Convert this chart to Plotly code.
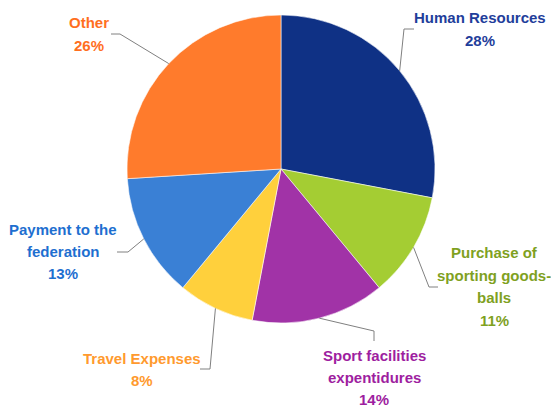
import math
import plotly.graph_objects as go

W, H = 551, 412

# data
labels = ["Human Resources", "Purchase of sporting goods-balls",
          "Sport facilities expentidures", "Travel Expenses",
          "Payment to the federation", "Other"]
label_lines = [["Human Resources"],
               ["Purchase of", "sporting goods-", "balls"],
               ["Sport facilities", "expentidures"],
               ["Travel Expenses"],
               ["Payment to the", "federation"],
               ["Other"]]
values = [28, 11, 14, 8, 13, 26]

slice_colors = ["#0F3185", "#A4CD33", "#A133A7", "#FFD03C", "#3A80D5", "#FF7B2C"]
text_colors = ["#1F3E9B", "#7FA11F", "#9E1EA0", "#FF9A2E", "#1E6FD0", "#FF6F1E"]

# pie geometry in pixels
cx, cy, r = 281, 169, 154

# label block: centre x and first line y, in pixels
label_pos = [(480, 18), (494, 253), (374, 355), (142, 358), (63, 229), (89, 23)]
line_step = 22.4
elbows = [((404, 29), (414, 29)),
          ((429, 287), (438, 287)),
          ((374, 331), (374, 341)),
          ((210, 369), (200, 369)),
          ((128, 252), (117, 252)),
          ((120, 34), (111, 34))]


def px(x, y):
    return x / W, 1 - y / H


fig = go.Figure()
x0, y1 = px(cx - r, cy + r)
x1, y0 = px(cx + r, cy - r)
fig.add_trace(go.Pie(
    labels=labels, values=values, sort=False, direction="clockwise", rotation=0,
    textinfo="none", hoverinfo="label+percent",
    marker=dict(colors=slice_colors, line=dict(color="rgba(255,255,255,0.55)", width=1)),
    domain=dict(x=[x0, x1], y=[y1, y0]),
    showlegend=False,
))

total = sum(values)
cum = 0
shapes, annotations = [], []
for i, v in enumerate(values):
    mid = (cum + v / 2) / total * 2 * math.pi
    cum += v
    sx, sy = cx + r * math.sin(mid), cy - r * math.cos(mid)
    (ex, ey), (tx, ty) = elbows[i]
    p0, p1, p2 = px(sx, sy), px(ex, ey), px(tx, ty)
    shapes.append(dict(type="path", xref="paper", yref="paper",
                       path=f"M {p0[0]} {p0[1]} L {p1[0]} {p1[1]} L {p2[0]} {p2[1]}",
                       line=dict(color="#808080", width=1)))
    lines = label_lines[i] + [f"{v}%"]
    lx0, ly0 = label_pos[i]
    for k, line in enumerate(lines):
        lx, ly = px(lx0, ly0 + k * line_step)
        annotations.append(dict(
            x=lx, y=ly, xref="paper", yref="paper", xanchor="center", yanchor="middle",
            showarrow=False, text=f"<b>{line}</b>",
            font=dict(family="Liberation Sans, Arial", size=15, color=text_colors[i]),
        ))

fig.update_layout(
    width=W, height=H, margin=dict(l=0, r=0, t=0, b=0),
    paper_bgcolor="white", plot_bgcolor="white",
    shapes=shapes, annotations=annotations,
)

# drop the default page margin so the figure fills the window
fig.write_html("out.html", config={"displayModeBar": False},
               post_script="document.body.style.margin='0';document.body.style.overflow='hidden';")
